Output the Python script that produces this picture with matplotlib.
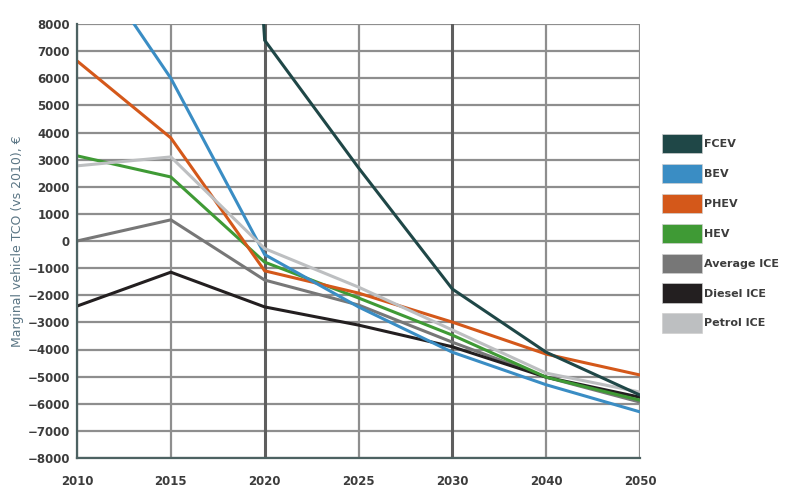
import numpy as np
import matplotlib.pyplot as plt
from matplotlib.patches import Patch

# Data (EUR, marginal TCO vs 2010)
years = ['2010', '2015', '2020', '2025', '2030', '2040', '2050']
fcev = [np.nan, 60000, 7400, 2700, -1770, -4100, -5680]
bev = [11100, 6000, -500, -2430, -4100, -5300, -6300]
phev = [6640, 3800, -1100, -1920, -2990, -4170, -4940]
hev = [3140, 2360, -780, -2100, -3470, -5020, -5870]
avg_ice = [0, 780, -1440, -2360, -3730, -5020, -5940]
diesel_ice = [-2400, -1150, -2430, -3100, -3900, -5020, -5760]
petrol_ice = [2770, 3100, -280, -1700, -3280, -4870, -5570]

names = ['FCEV', 'BEV', 'PHEV', 'HEV', 'Average ICE', 'Diesel ICE', 'Petrol ICE']
series = [fcev, bev, phev, hev, avg_ice, diesel_ice, petrol_ice]
colors = ['#1f4747', '#3a8dc4', '#d4581a', '#3f9a35', '#777777', '#231f20', '#bdbfc1']

fig = plt.figure(figsize=(7.92, 4.88), dpi=100)
ax = fig.add_axes([77 / 792, 1 - 458 / 488, (640 - 77) / 792, (458 - 24) / 488])

x = np.arange(len(years))

# grid
for yv in range(-8000, 8001, 1000):
    ax.axhline(yv, color='#8e8e8e', lw=1.6, zorder=1)
for i in x:
    heavy = years[i] in ('2020', '2030')
    ax.axvline(i, color='#5e5e5e' if heavy else '#8e8e8e', lw=2.2 if heavy else 1.6, zorder=1)

# draw back to front so the light lines end up on top where the reference has them
order = [4, 5, 3, 2, 1, 6, 0]
for k in order:
    ax.plot(x, series[k], color=colors[k], lw=2.2, zorder=3, solid_joinstyle='miter')

ax.set_xlim(0, len(years) - 1)
ax.set_ylim(-8000, 8000)
ax.set_xticks(x)
ax.set_xticklabels(years)
ax.set_yticks(range(-8000, 8001, 1000))
ax.tick_params(axis='both', length=0, labelsize=8.5, labelcolor='#3c3c3c')
ax.tick_params(axis='x', pad=12)
ax.tick_params(axis='y', pad=5)
for lab in ax.get_xticklabels() + ax.get_yticklabels():
    lab.set_fontweight('bold')

for s in ['top', 'right']:
    ax.spines[s].set_visible(False)
ax.spines['left'].set_color('#4d6262')
ax.spines['bottom'].set_color('#4d6262')
ax.spines['left'].set_linewidth(1.6)
ax.spines['bottom'].set_linewidth(1.6)
ax.spines['left'].set_zorder(4)
ax.spines['bottom'].set_zorder(4)

fig.text(18 / 792, 1 - 241 / 488, 'Marginal vehicle TCO (vs 2010), €', rotation=90,
         ha='center', va='center', fontsize=9, color='#5b7685')

handles = [Patch(facecolor=c, edgecolor='#cfcfcf', lw=0.5) for c in colors]
leg = fig.legend(handles, names, loc='upper left', bbox_to_anchor=(652 / 792, 1 - 124 / 488),
                 frameon=False, handlelength=3.6, handleheight=2.3, handletextpad=0.2,
                 labelspacing=0.95, fontsize=8)
for t in leg.get_texts():
    t.set_color('#3c3c3c')
    t.set_fontweight('bold')

fig.savefig('out.png', dpi=100)
